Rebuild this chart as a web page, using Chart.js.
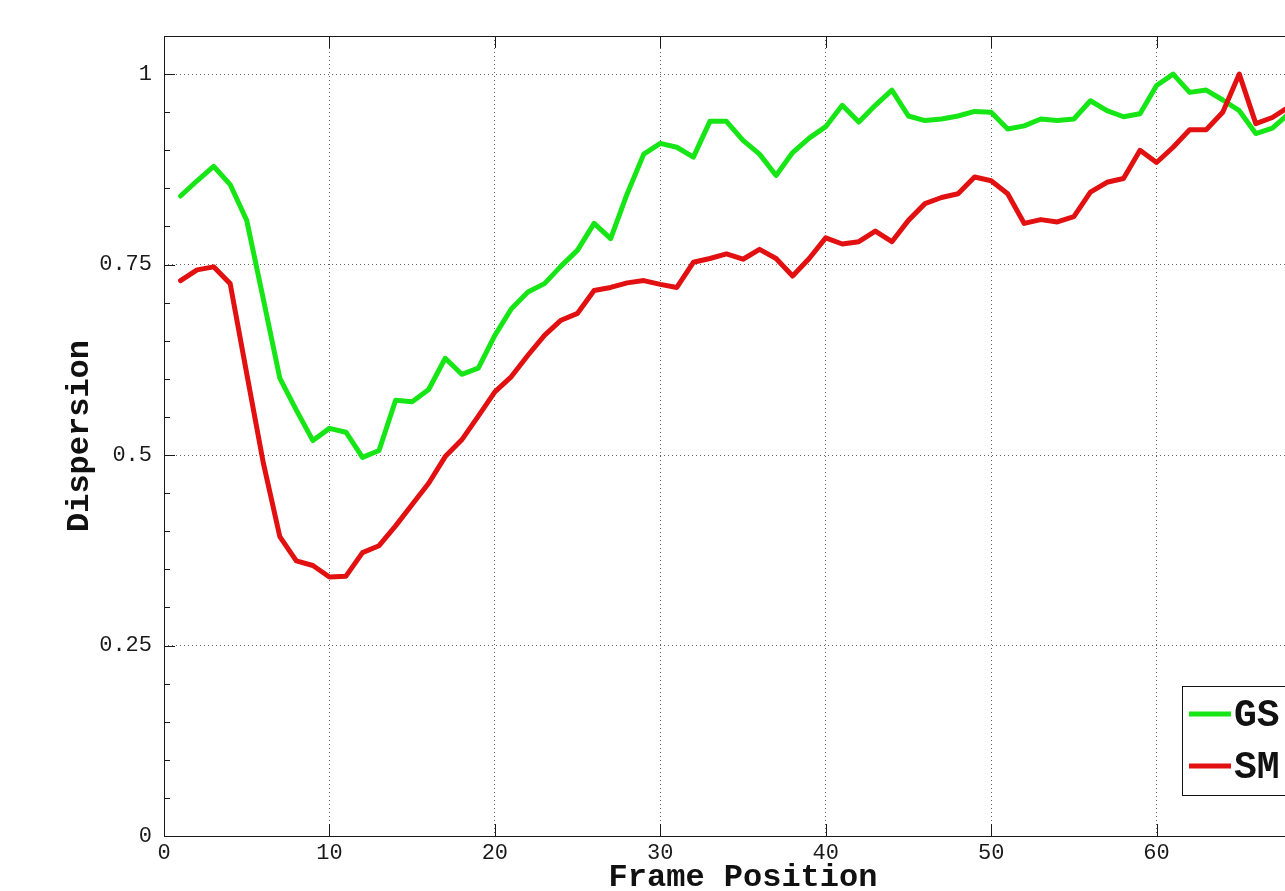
<!DOCTYPE html>
<html>
<head>
<meta charset="utf-8">
<script src="https://cdn.jsdelivr.net/npm/chart.js@4.4.1/dist/chart.umd.min.js"></script>
<style>
  html, body { margin: 0; padding: 0; background: #fff; overflow: hidden; }
  #wrap { width: 1400px; height: 891px; }
</style>
</head>
<body>
<div id="wrap"><canvas id="chart" width="1400" height="891"></canvas></div>
<script>
// frame index 1..68 (the rest of the axis runs off the right edge)
const frames = [];
for (let i = 1; i <= 68; i++) frames.push(i);

const gsValues = [
  0.840, 0.860, 0.879, 0.855, 0.808, 0.705, 0.601, 0.559, 0.519, 0.535,
  0.530, 0.497, 0.506, 0.572, 0.570, 0.586, 0.627, 0.606, 0.614, 0.657,
  0.692, 0.714, 0.725, 0.748, 0.769, 0.804, 0.784, 0.843, 0.895, 0.909,
  0.904, 0.891, 0.938, 0.938, 0.913, 0.895, 0.867, 0.897, 0.916, 0.931,
  0.959, 0.937, 0.959, 0.979, 0.945, 0.939, 0.941, 0.945, 0.951, 0.950,
  0.928, 0.932, 0.941, 0.939, 0.941, 0.965, 0.952, 0.944, 0.948, 0.985,
  1.000, 0.976, 0.979, 0.966, 0.952, 0.922, 0.929, 0.948
];
const smValues = [
  0.729, 0.743, 0.747, 0.725, 0.607, 0.490, 0.393, 0.361, 0.355, 0.340,
  0.341, 0.372, 0.381, 0.407, 0.435, 0.463, 0.498, 0.520, 0.551, 0.583,
  0.603, 0.631, 0.657, 0.677, 0.686, 0.716, 0.720, 0.726, 0.729, 0.724,
  0.720, 0.753, 0.758, 0.764, 0.757, 0.770, 0.758, 0.735, 0.758, 0.785,
  0.777, 0.780, 0.794, 0.780, 0.808, 0.830, 0.838, 0.843, 0.865, 0.860,
  0.843, 0.804, 0.809, 0.806, 0.813, 0.845, 0.858, 0.863, 0.900, 0.884,
  0.904, 0.927, 0.927, 0.950, 1.000, 0.935, 0.943, 0.957
];
const seriesLabels = ['GS', 'SM'];
const xTicks = [0, 10, 20, 30, 40, 50, 60, 70];
const yTicks = [0, 0.25, 0.5, 0.75, 1];

const GREEN = 'rgb(22,230,22)';
const RED = 'rgb(226,16,16)';
const MONO = '"Liberation Mono", "Courier New", monospace';

const toPoints = vals => vals.map((v, i) => ({ x: frames[i], y: v }));

// matlab style box, inward ticks (minor ticks on y) and legend box
const matlabAxes = {
  id: 'matlabAxes',
  afterDatasetsDraw(chart) {
    const { ctx, chartArea: a, scales: { x, y } } = chart;
    ctx.save();
    ctx.strokeStyle = '#1a1a1a';
    ctx.lineWidth = 1;
    ctx.strokeRect(Math.round(a.left) + 0.5, Math.round(a.top) + 0.5,
      Math.round(a.right - a.left), Math.round(a.bottom - a.top));

    ctx.beginPath();
    xTicks.forEach(v => {
      const px = Math.round(x.getPixelForValue(v)) + 0.5;
      ctx.moveTo(px, a.bottom); ctx.lineTo(px, a.bottom - 12);
      ctx.moveTo(px, a.top); ctx.lineTo(px, a.top + 12);
    });
    for (let i = 0; i <= 20; i++) {
      const py = Math.round(y.getPixelForValue(i * 0.05)) + 0.5;
      const len = i % 5 === 0 ? 11 : 6;
      ctx.moveTo(a.left, py); ctx.lineTo(a.left + len, py);
      ctx.moveTo(a.right, py); ctx.lineTo(a.right - len, py);
    }
    ctx.stroke();

    // legend (south-east, inside the axes)
    const boxL = 1182, boxT = 686, boxB = 795;
    const boxR = a.right - 10;
    ctx.fillStyle = '#fff';
    ctx.fillRect(boxL, boxT, boxR - boxL, boxB - boxT);
    ctx.strokeStyle = '#111';
    ctx.strokeRect(boxL + 0.5, boxT + 0.5, boxR - boxL, boxB - boxT);
    ctx.font = 'bold 38px ' + MONO;
    ctx.textBaseline = 'middle';
    ctx.textAlign = 'left';
    chart.data.datasets.forEach((ds, i) => {
      const ly = i === 0 ? 714 : 766;
      ctx.strokeStyle = ds.borderColor;
      ctx.lineWidth = 5;
      ctx.beginPath();
      ctx.moveTo(1189, ly); ctx.lineTo(1231, ly);
      ctx.stroke();
      ctx.fillStyle = '#111';
      ctx.fillText(ds.label, 1234, ly + 2);
    });
    ctx.restore();
  }
};

new Chart(document.getElementById('chart'), {
  type: 'line',
  data: {
    datasets: [
      { label: seriesLabels[0], data: toPoints(gsValues), borderColor: GREEN, order: 2 },
      { label: seriesLabels[1], data: toPoints(smValues), borderColor: RED, order: 1 }
    ]
  },
  options: {
    responsive: false,
    animation: false,
    devicePixelRatio: 1,
    layout: { padding: { top: 36, right: 78, left: 0, bottom: 0 } },
    elements: {
      line: { borderWidth: 5, tension: 0, borderJoinStyle: 'round', borderCapStyle: 'round', fill: false },
      point: { radius: 0 }
    },
    plugins: { legend: { display: false }, tooltip: { enabled: false } },
    scales: {
      x: {
        type: 'linear', min: 0, max: 70,
        afterBuildTicks: s => { s.ticks = xTicks.map(v => ({ value: v })); },
        afterFit: s => { s.height = 55; },
        grid: { color: 'rgba(0,0,0,0.6)', lineWidth: 1, drawTicks: false },
        border: { display: false, dash: [1, 3] },
        ticks: { color: '#1a1a1a', padding: 4, font: { family: MONO, size: 22 }, maxRotation: 0,
          callback: v => String(v) },
        title: { display: true, text: 'Frame Position', color: '#111', padding: 0,
          font: { family: MONO, size: 32, weight: 'bold', lineHeight: 0.8 } }
      },
      y: {
        type: 'linear', min: 0, max: 1.05,
        afterBuildTicks: s => { s.ticks = yTicks.map(v => ({ value: v })); },
        afterFit: s => { s.width = 164; },
        grid: { color: 'rgba(0,0,0,0.6)', lineWidth: 1, drawTicks: false },
        border: { display: false, dash: [1, 3] },
        ticks: { color: '#1a1a1a', padding: 12, font: { family: MONO, size: 22 },
          callback: v => String(v) },
        title: { display: true, text: 'Dispersion', color: '#111', padding: { top: 64 },
          font: { family: MONO, size: 32, weight: 'bold', lineHeight: 1 } }
      }
    }
  },
  plugins: [matlabAxes]
});
</script>
</body>
</html>
